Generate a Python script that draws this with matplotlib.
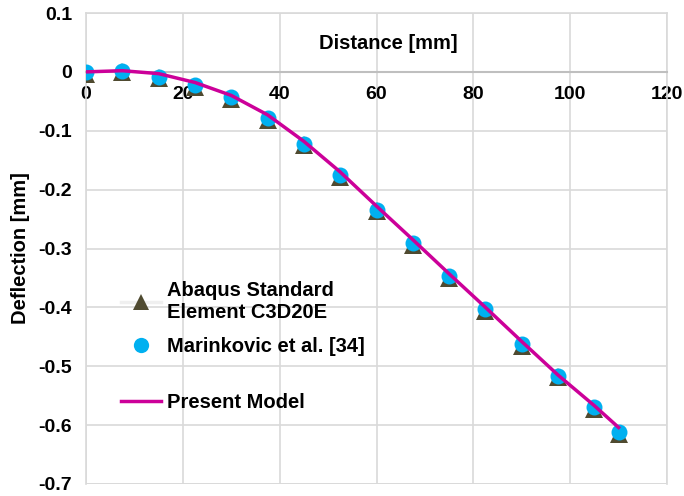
import matplotlib.pyplot as plt
from matplotlib.lines import Line2D

plt.rcParams['font.family'] = ['Liberation Sans', 'DejaVu Sans']
plt.rcParams['font.weight'] = 'bold'

# Sampling stations along the beam [mm]
distance = [0, 7.5, 15, 22.5, 30, 37.5, 45, 52.5, 60, 67.5, 75, 82.5, 90, 97.5, 105, 110]

# Deflection [mm]
abaqus = [-0.003, -0.001, -0.011, -0.026, -0.046, -0.082, -0.125, -0.179, -0.237,
          -0.294, -0.350, -0.406, -0.465, -0.519, -0.573, -0.615]
marinkovic = [0.0, 0.002, -0.008, -0.023, -0.043, -0.079, -0.122, -0.176, -0.234,
              -0.291, -0.347, -0.403, -0.462, -0.516, -0.570, -0.612]
present = [0.0, 0.002, -0.003, -0.018, -0.040, -0.073, -0.118, -0.170, -0.228,
           -0.285, -0.343, -0.400, -0.458, -0.515, -0.567, -0.604]

fig = plt.figure(figsize=(6.84, 4.96), dpi=100)
ax = fig.add_axes([86 / 684, 1 - 484 / 496, (667 - 86) / 684, (484 - 13) / 496])

grid_c = '#d9d9d9'
tri_c = '#4f4a30'
dot_c = '#00b0f0'
line_c = '#cc0099'

ax.plot(distance, abaqus, linestyle='none', marker='^', markersize=12.5,
        markeredgewidth=0, color=tri_c, zorder=3)
ax.plot(distance, marinkovic, linestyle='none', marker='o', markersize=11.5,
        markeredgewidth=0, color=dot_c, zorder=4)
ax.plot(distance, present, color=line_c, linewidth=2.5, zorder=5)

ax.set_xlim(0, 120)
ax.set_ylim(-0.7, 0.1)
ax.set_xticks(range(0, 121, 20))
ax.set_yticks([0.1, 0, -0.1, -0.2, -0.3, -0.4, -0.5, -0.6, -0.7])
ax.set_yticklabels(['0.1', '0', '-0.1', '-0.2', '-0.3', '-0.4', '-0.5', '-0.6', '-0.7'])

ax.grid(True, color=grid_c, linewidth=1.2)
ax.set_axisbelow(True)
for side in ['left', 'right', 'top']:
    ax.spines[side].set_color(grid_c)
    ax.spines[side].set_linewidth(1.2)
ax.spines['bottom'].set_position(('data', 0))
ax.spines['bottom'].set_color('#bfbfbf')
ax.spines['bottom'].set_linewidth(1.5)
ax.axhline(-0.7, color=grid_c, linewidth=1.2, zorder=0)

ax.tick_params(length=0, labelsize=14)
ax.tick_params(axis='x', pad=10)
ax.tick_params(axis='y', pad=10)
for lbl in ax.get_xticklabels() + ax.get_yticklabels():
    lbl.set_fontweight('bold')

ax.text(62.4, 0.048, 'Distance [mm]', ha='center', va='center', fontsize=14.5, fontweight='bold')
ax.set_ylabel('Deflection [mm]', fontsize=14.5, fontweight='bold', labelpad=6)

# legend swatches: triangle sits on a faint line, as the source series had one
sw_tri = Line2D([], [], color='#efefef', linewidth=2.5, marker='^', markersize=12,
                markeredgewidth=0, markerfacecolor=tri_c)
sw_dot = Line2D([], [], linestyle='none', marker='o', markersize=11,
                markeredgewidth=0, color=dot_c)
sw_line = Line2D([], [], color=line_c, linewidth=2.5)

leg_props = {'weight': 'bold', 'size': 14.5}
leg1 = fig.legend([sw_tri, sw_dot], ['Abaqus Standard\nElement C3D20E', 'Marinkovic et al. [34]'],
                  loc='upper left', bbox_to_anchor=(103 / 684, 1 - 263 / 496), frameon=False,
                  handlelength=2.0, labelspacing=0.75, handletextpad=0.3, prop=leg_props)
leg2 = fig.legend([sw_line], ['Present Model'],
                  loc='center left', bbox_to_anchor=(103 / 684, 1 - 403 / 496), frameon=False,
                  handlelength=2.0, handletextpad=0.3, prop=leg_props)

fig.savefig('out.png', dpi=100)
